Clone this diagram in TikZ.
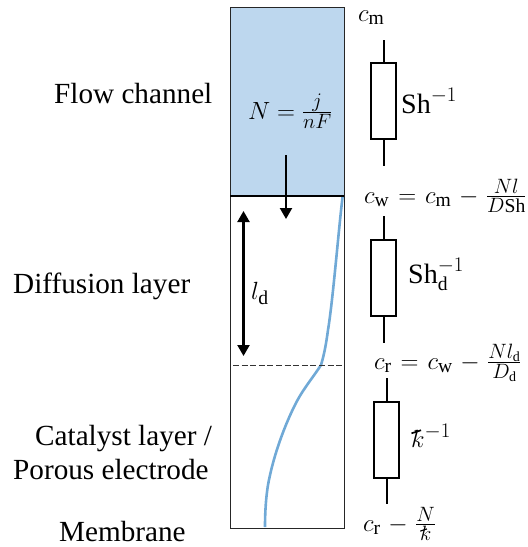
\documentclass[tikz,border=0pt]{standalone}
\usepackage{amsmath}
\usepackage{fontspec}
\setmainfont{Liberation Serif}
\usetikzlibrary{arrows.meta}
\definecolor{chan}{HTML}{BDD7EE}
\definecolor{prof}{HTML}{70A9D6}
\newcommand{\kst}{\text{\ooalign{$k$\cr\kern0.0em\raisebox{1.0ex}{\rotatebox{18}{\rule{0.36em}{0.06em}}}\hfil\cr}}}
\newcommand{\widemath}{\thickmuskip=6.5mu plus 0mu\relax\medmuskip=5.5mu plus 0mu minus 0mu\relax}
\tikzset{
  res/.style={draw=black,line width=2pt,fill=white,minimum width=25pt,minimum height=76pt,inner sep=0pt,outer sep=0pt},
  stem/.style={line width=2pt},
  lab/.style={anchor=base west,inner sep=0pt,font=\fontsize{29.2}{34}\selectfont},
  mth/.style={anchor=base west,inner sep=0pt,font=\fontsize{28}{32}\selectfont},
  mthw/.style={anchor=base west,inner sep=0pt,font=\fontsize{28}{32}\selectfont\widemath},
  arr/.style={line width=2.1pt,-{Triangle[length=11pt,width=12pt]}},
  dbl/.style={line width=2.1pt,{Triangle[length=11pt,width=12pt]}-{Triangle[length=11pt,width=12pt]}},
}
\begin{document}
\begin{tikzpicture}[x=1pt,y=-1pt]
\useasboundingbox (0,0) rectangle (528,547);
\node[draw=none,fill=chan,minimum width=114pt,minimum height=189pt,inner sep=0pt,anchor=north west] (channel) at (230,7) {};
\draw[prof,line width=2.6pt] (342.7,196) .. controls (339,225) and (333,300) .. (328,330) .. controls (326,345) and (324,355) .. (321,365) .. controls (314,376) and (304,388) .. (297,401) .. controls (287,420) and (274,452) .. (268,485) .. controls (266,497) and (265,512) .. (265,527);
\node[draw=black!85,line width=1.1pt,minimum width=114pt,minimum height=521pt,inner sep=0pt,anchor=north west] (cell) at (230,7) {};
\coordinate (wl) at (230,196); \coordinate (wr) at (344,196);
\coordinate (dl) at (233,365); \coordinate (dr) at (344,365);
\draw[line width=1.2pt] (wl) -- (wr);
\draw[line width=0.9pt,dash pattern=on 6pt off 2.6pt,black!80] (dl) -- (dr);
\coordinate (na) at (286,155); \coordinate (nb) at (286,219);
\draw[arr] (na) -- (nb);
\coordinate (la) at (243.5,211); \coordinate (lb) at (243.5,356);
\draw[dbl] (la) -- (lb);
\node[lab] (t1) at (54,103) {Flow channel};
\node[lab] (t2) at (13,293) {Diffusion layer};
\node[lab] (t3) at (35,445) {Catalyst layer /};
\node[lab] (t4) at (13,479) {Porous electrode};
\node[lab] (t5) at (59,541) {Membrane};
\node[mth] (mN) at (248,119) {$N=\frac{j}{nF}$};
\node[mth] (ml) at (251,299) {$l_{\mathrm{d}}$};
\node[res] (r1) at (383.5,101) {};
\node[res] (r2) at (383.5,278) {};
\node[res] (r3) at (386.7,439.5) {};
\coordinate (a1) at (383.5,40); \coordinate (b1) at (383.5,166);
\coordinate (a2) at (383.5,216); \coordinate (b2) at (383.5,343);
\coordinate (a3) at (386.7,378); \coordinate (b3) at (386.7,504);
\draw[stem] (a1) -- (r1.north); \draw[stem] (r1.south) -- (b1);
\draw[stem] (a2) -- (r2.north); \draw[stem] (r2.south) -- (b2);
\draw[stem] (a3) -- (r3.north); \draw[stem] (r3.south) -- (b3);
\node[mth] (c1) at (358,21) {$c_{\mathrm{m}}$};
\node[mth] (s1) at (401,113) {$\mathrm{Sh}^{-1}$};
\node[mthw] (c2) at (364,203) {$c_{\mathrm{w}}=c_{\mathrm{m}}-\frac{Nl}{D\mathrm{Sh}}$};
\node[mth] (s2) at (408,283) {$\mathrm{Sh}_{\mathrm{d}}^{-1}$};
\node[mthw] (c3) at (374,369) {$c_{\mathrm{r}}=c_{\mathrm{w}}-\frac{Nl_{\mathrm{d}}}{D_{\mathrm{d}}}$};
\node[mth] (s3) at (411,447) {$\kst^{-1}$};
\node[mthw] (c4) at (363,531) {$c_{\mathrm{r}}-\frac{N}{\kst}$};
\end{tikzpicture}
\end{document}
